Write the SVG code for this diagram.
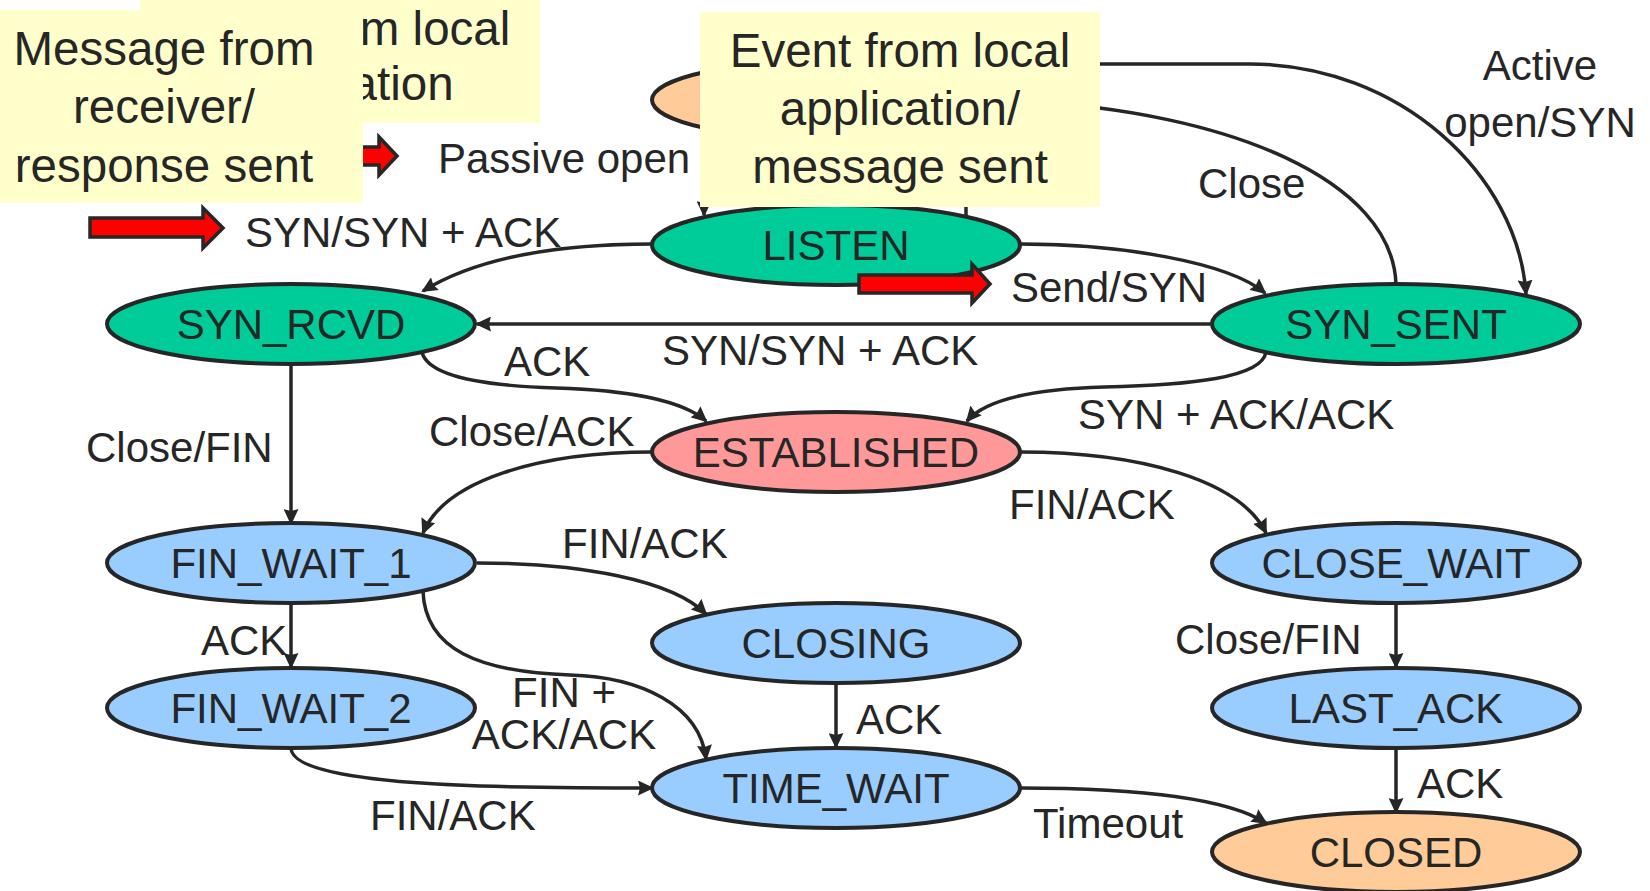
<svg xmlns="http://www.w3.org/2000/svg" width="1650" height="891" viewBox="0 0 1650 891">
  <style>
    .node ellipse { stroke: #262626; stroke-width: 4; }
    .s-green { fill: #00CC99; }
    .s-pink { fill: #FF9999; }
    .s-blue { fill: #99CCFF; }
    .s-orange { fill: #FFCC99; }
    text { font-family: "Liberation Sans", Arial, sans-serif; fill: #262626; }
    .nl { font-size: 42px; text-anchor: middle; }
    .el { font-size: 42px; }
    .elc { font-size: 42px; text-anchor: middle; }
    .edge { fill: none; stroke: #262626; stroke-width: 3.5; marker-end: url(#arr); }
    .note rect { fill: #FFFFCC; }
    .note text { font-size: 47.5px; text-anchor: middle; }
    .block { fill: #FF0000; stroke: #262626; stroke-width: 3.5; stroke-linejoin: miter; }
  </style>
  <defs>
    <marker id="arr" markerUnits="userSpaceOnUse" markerWidth="16" markerHeight="15" viewBox="0 0 16 15" refX="14" refY="7.5" orient="auto">
      <path d="M0,0 L16,7.5 L0,15 L2,7.5 z" fill="#262626"/>
    </marker>
  </defs>
  <rect width="1650" height="891" fill="#FFFFFF"/>

  <!-- states -->
  <g id="closed-top" class="node"><ellipse class="s-orange" cx="836" cy="100" rx="184" ry="40"/></g>
  <g id="listen" class="node"><ellipse class="s-green" cx="836" cy="245" rx="184" ry="40"/><text class="nl" x="836" y="260">LISTEN</text></g>
  <g id="syn-rcvd" class="node"><ellipse class="s-green" cx="291" cy="324" rx="184" ry="40"/><text class="nl" x="291" y="339">SYN_RCVD</text></g>
  <g id="syn-sent" class="node"><ellipse class="s-green" cx="1396" cy="324" rx="184" ry="40"/><text class="nl" x="1396" y="339">SYN_SENT</text></g>
  <g id="established" class="node"><ellipse class="s-pink" cx="836" cy="452" rx="184" ry="40"/><text class="nl" x="836" y="467">ESTABLISHED</text></g>
  <g id="fin-wait-1" class="node"><ellipse class="s-blue" cx="291" cy="563" rx="184" ry="40"/><text class="nl" x="291" y="578">FIN_WAIT_1</text></g>
  <g id="close-wait" class="node"><ellipse class="s-blue" cx="1396" cy="563" rx="184" ry="40"/><text class="nl" x="1396" y="578">CLOSE_WAIT</text></g>
  <g id="closing" class="node"><ellipse class="s-blue" cx="836" cy="643" rx="184" ry="40"/><text class="nl" x="836" y="658">CLOSING</text></g>
  <g id="fin-wait-2" class="node"><ellipse class="s-blue" cx="291" cy="708" rx="184" ry="40"/><text class="nl" x="291" y="723">FIN_WAIT_2</text></g>
  <g id="last-ack" class="node"><ellipse class="s-blue" cx="1396" cy="708" rx="184" ry="40"/><text class="nl" x="1396" y="723">LAST_ACK</text></g>
  <g id="time-wait" class="node"><ellipse class="s-blue" cx="836" cy="788" rx="184" ry="40"/><text class="nl" x="836" y="803">TIME_WAIT</text></g>
  <g id="closed" class="node"><ellipse class="s-orange" cx="1396" cy="852" rx="184" ry="40"/><text class="nl" x="1396" y="867">CLOSED</text></g>

  <!-- transitions -->
  <g id="connectors">
    <path class="edge" d="M704,128 L704,215"/>
    <path class="edge" d="M966,216 L966,130"/>
    <path class="edge" d="M916,64 L1249,64 C1400,64 1518,175 1526,294"/>
    <path class="edge" d="M1396,284 C1392,180 1230,112 1022,101"/>
    <path class="edge" d="M652,244 C540,244 470,262 423,291"/>
    <path class="edge" d="M1020,244 C1120,244 1228,262 1265,293"/>
    <path class="edge" d="M1211,324 L477,324"/>
    <path class="edge" d="M422,352 C428,378 490,386 556,388 C625,390 682,400 706,421"/>
    <path class="edge" d="M1266,352 C1262,378 1190,385 1104,387 C1030,389 985,400 967,421"/>
    <path class="edge" d="M291,364 L291,523"/>
    <path class="edge" d="M652,452 C540,452 445,480 423,533"/>
    <path class="edge" d="M1020,452 C1140,452 1240,480 1266,533"/>
    <path class="edge" d="M477,563 C580,563 672,580 706,614"/>
    <path class="edge" d="M291,603 L291,667"/>
    <path class="edge" d="M423,591 C425,650 480,672 570,675 C640,677 700,705 706,759"/>
    <path class="edge" d="M836,683 L836,747"/>
    <path class="edge" d="M291,748 C291,770 360,782 480,786 C560,788 610,788 652,788"/>
    <path class="edge" d="M1020,788 C1120,788 1222,795 1266,823"/>
    <path class="edge" d="M1396,603 L1396,667"/>
    <path class="edge" d="M1396,748 L1396,812"/>
  </g>

  <!-- transition labels -->
  <g id="labels">
    <text class="el" x="438" y="173">Passive open</text>
    <text class="el" x="245" y="247">SYN/SYN + ACK</text>
    <text class="el" x="1011" y="302">Send/SYN</text>
    <text class="el" x="1198" y="198">Close</text>
    <text class="elc" x="1540" y="80">Active</text>
    <text class="elc" x="1540" y="137">open/SYN</text>
    <text class="el" x="662" y="365">SYN/SYN + ACK</text>
    <text class="el" x="504" y="376">ACK</text>
    <text class="el" x="1078" y="429">SYN + ACK/ACK</text>
    <text class="el" x="86" y="462">Close/FIN</text>
    <text class="el" x="429" y="446">Close/ACK</text>
    <text class="el" x="1009" y="519">FIN/ACK</text>
    <text class="el" x="562" y="558">FIN/ACK</text>
    <text class="el" x="201" y="655">ACK</text>
    <text class="elc" x="564" y="707">FIN +</text>
    <text class="elc" x="564" y="749">ACK/ACK</text>
    <text class="el" x="856" y="734">ACK</text>
    <text class="el" x="370" y="830">FIN/ACK</text>
    <text class="el" x="1175" y="654">Close/FIN</text>
    <text class="el" x="1417" y="798">ACK</text>
    <text class="el" x="1033" y="838">Timeout</text>
  </g>

  <!-- legend notes and red block arrows -->
  <g id="note-back" class="note">
    <rect x="140" y="0" width="400" height="123"/>
    <text x="340" y="45">Event from local</text>
    <text x="340" y="100">application</text>
  </g>
  <polygon class="block" points="266,147 379,147 379,137 397,156 379,175 379,165 266,165"/>
  <g id="note-receiver" class="note">
    <rect x="-40" y="10" width="403" height="193"/>
    <text x="164" y="65">Message from</text>
    <text x="164" y="123">receiver/</text>
    <text x="164" y="182">response sent</text>
  </g>
  <polygon class="block" points="90,218 203,218 203,208 223,228 203,248 203,237 90,237"/>
  <polygon class="block" points="859,275 972,275 972,264 990,284 972,303 972,293 859,293"/>
  <g id="note-local" class="note">
    <rect x="700" y="12" width="400" height="195"/>
    <text x="900" y="67">Event from local</text>
    <text x="900" y="125">application/</text>
    <text x="900" y="183">message sent</text>
  </g>
</svg>
